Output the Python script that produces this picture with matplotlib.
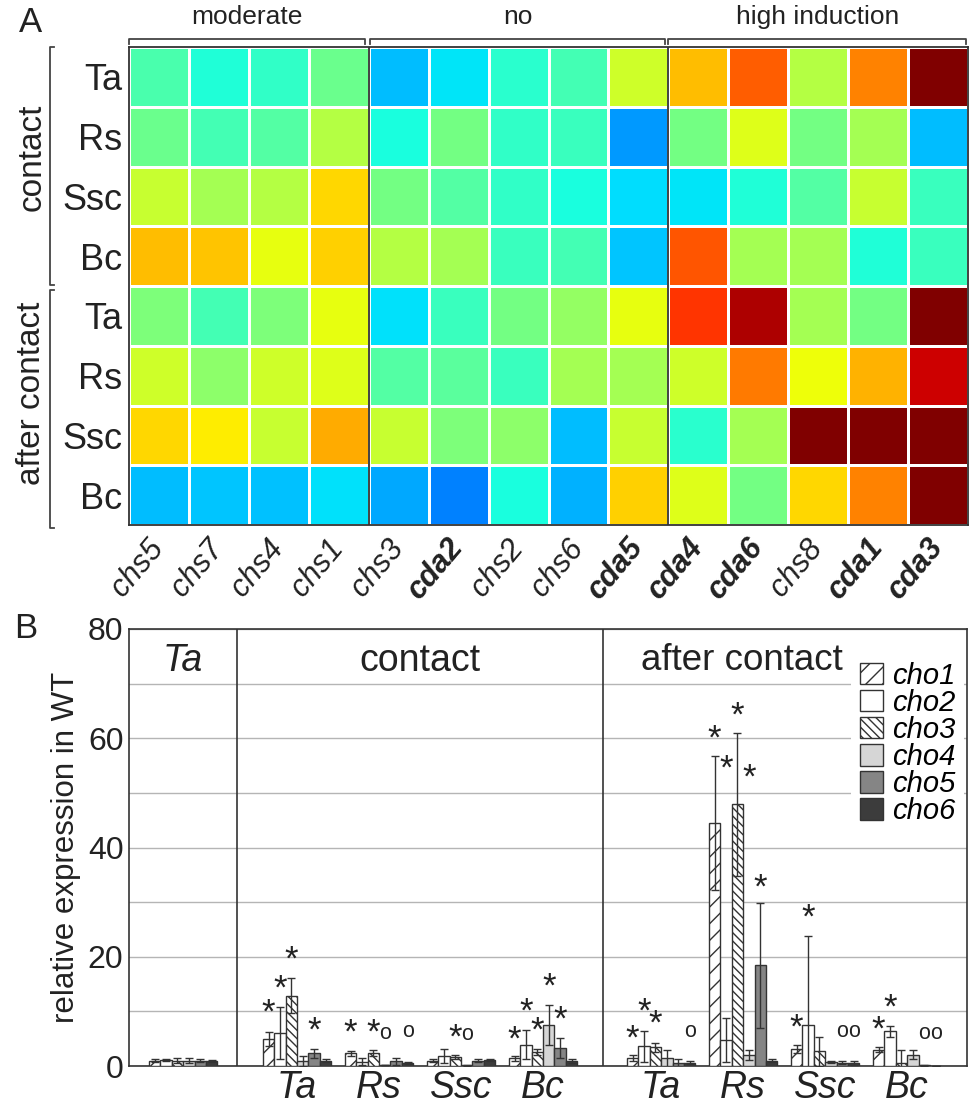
import matplotlib.pyplot as plt
import numpy as np
from matplotlib.patches import Patch

plt.rcParams['font.family'] = ['Liberation Sans', 'DejaVu Sans']
plt.rcParams['hatch.linewidth'] = 1.0

# ---------------- panel A : heatmap (values on a 0..1 jet scale) ----------------
genes_a = ['chs5', 'chs7', 'chs4', 'chs1', 'chs3', 'cda2', 'chs2', 'chs6',
           'cda5', 'cda4', 'cda6', 'chs8', 'cda1', 'cda3']
rows_a = ['Ta', 'Rs', 'Ssc', 'Bc', 'Ta', 'Rs', 'Ssc', 'Bc']
col_groups = ['moderate', 'no', 'high induction']

contact_ta = [0.44, 0.39, 0.41, 0.48, 0.31, 0.35, 0.40, 0.43, 0.60, 0.71, 0.81, 0.57, 0.77, 1.00]
contact_rs = [0.48, 0.43, 0.45, 0.57, 0.38, 0.49, 0.41, 0.42, 0.275, 0.49, 0.62, 0.49, 0.55, 0.31]
contact_ssc = [0.59, 0.55, 0.57, 0.68, 0.49, 0.45, 0.41, 0.38, 0.34, 0.35, 0.39, 0.45, 0.59, 0.42]
contact_bc = [0.71, 0.70, 0.63, 0.69, 0.57, 0.55, 0.42, 0.43, 0.32, 0.82, 0.55, 0.55, 0.39, 0.42]
after_ta = [0.50, 0.43, 0.50, 0.63, 0.345, 0.42, 0.49, 0.53, 0.63, 0.855, 0.96, 0.55, 0.49, 1.00]
after_rs = [0.60, 0.52, 0.60, 0.62, 0.45, 0.46, 0.42, 0.55, 0.55, 0.60, 0.78, 0.64, 0.72, 0.93]
after_ssc = [0.68, 0.66, 0.59, 0.73, 0.59, 0.50, 0.52, 0.31, 0.59, 0.40, 0.55, 1.00, 1.00, 1.00]
after_bc = [0.31, 0.32, 0.315, 0.345, 0.29, 0.25, 0.38, 0.30, 0.69, 0.62, 0.49, 0.68, 0.77, 1.00]

# ---------------- panel B : bars ----------------
groups_b = ['Ta', 'Ta', 'Rs', 'Ssc', 'Bc', 'Ta', 'Rs', 'Ssc', 'Bc']
series_b = ['cho1', 'cho2', 'cho3', 'cho4', 'cho5', 'cho6']

cho1 = [1.0, 5.0, 2.3, 1.0, 1.4, 1.5, 44.5, 3.1, 3.0]
cho2 = [1.05, 6.0, 0.8, 1.8, 3.9, 3.6, 4.7, 7.5, 6.4]
cho3 = [1.0, 12.9, 2.4, 1.6, 2.6, 3.4, 47.9, 2.7, 0.5]
cho4 = [1.0, 0.9, 0.15, 0.1, 7.5, 1.4, 2.0, 0.7, 2.1]
cho5 = [1.0, 2.3, 0.85, 1.0, 3.25, 0.6, 18.4, 0.6, 0.1]
cho6 = [0.95, 1.0, 0.55, 1.15, 0.9, 0.6, 1.0, 0.6, 0.05]

cho1_err = [0.3, 1.3, 0.5, 0.2, 0.4, 0.5, 12.2, 0.7, 0.4]
cho2_err = [0.2, 4.8, 0.6, 1.3, 2.7, 2.8, 4.0, 16.3, 1.0]
cho3_err = [0.4, 3.2, 0.6, 0.4, 0.5, 0.9, 13.1, 2.7, 2.4]
cho4_err = [0.5, 0.9, 0.05, 0.05, 3.7, 1.5, 0.9, 0.2, 0.8]
cho5_err = [0.2, 0.9, 0.65, 0.35, 1.85, 0.75, 11.4, 0.25, 0.05]
cho6_err = [0.15, 0.35, 0.2, 0.2, 0.3, 0.25, 0.35, 0.4, 0.02]

# significance marks (* / o) and the level they are written at
cho1_mark = ['', '*', '*', '', '*', '*', '*', '*', '*']
cho2_mark = ['', '*', '', '', '*', '*', '*', '*', '*']
cho3_mark = ['', '*', '*', '*', '*', '*', '*', '', '']
cho4_mark = ['', '', 'o', 'o', '*', '', '*', '', '']
cho5_mark = ['', '*', '', '', '*', '', '*', 'o', 'o']
cho6_mark = ['', '', 'o', '', '', 'o', '', 'o', 'o']
cho1_mark_y = [0, 11.7, 8.0, 0, 6.7, 6.9, 61.8, 8.9, 8.6]
cho2_mark_y = [0, 16.0, 0, 0, 11.8, 11.8, 56.3, 29.1, 12.6]
cho3_mark_y = [0, 21.3, 8.0, 7.1, 8.3, 9.6, 66.0, 0, 0]
cho4_mark_y = [0, 0, 6.0, 5.8, 16.4, 0, 54.7, 0, 0]
cho5_mark_y = [0, 8.3, 0, 0, 10.4, 0, 34.6, 6.3, 6.0]
cho6_mark_y = [0, 0, 6.3, 0, 0, 6.4, 0, 6.3, 6.0]

fig = plt.figure(figsize=(9.71, 11.06), dpi=100)

# ======== A ========
ax_a = fig.add_axes([129 / 971, 1 - 525 / 1106, 839 / 971, 478 / 1106])
heat = np.array([contact_ta, contact_rs, contact_ssc, contact_bc,
                 after_ta, after_rs, after_ssc, after_bc])
ax_a.pcolormesh(np.arange(15), np.arange(9), heat, cmap='jet', vmin=0, vmax=1,
                edgecolors='white', linewidth=2)
ax_a.set_xlim(0, 14)
ax_a.set_ylim(8, 0)
for x in [4, 9]:
    ax_a.axvline(x, color='#333333', lw=1.3)
for sp in ax_a.spines.values():
    sp.set_color('#333333')
    sp.set_linewidth(1.3)
ax_a.set_xticks([])
ax_a.set_yticks(np.arange(8) + 0.5)
ax_a.set_yticklabels(rows_a, fontsize=26)
ax_a.tick_params(axis='y', length=0, pad=5, colors='#222222')

for i, g in enumerate(genes_a):
    bold = g.startswith('cda')
    ax_a.text(i + 0.3, 8.14, g, rotation=50, rotation_mode='anchor',
              ha='right', va='top', fontsize=22, style='italic',
              fontweight='bold' if bold else 'normal', color='#222222')

# top brackets
br_col = '#444444'
spans = [(0.0, 3.93), (4.02, 8.95), (9.0, 13.97)]
for (x0, x1), lab in zip(spans, col_groups):
    ax_a.plot([x0, x0, x1, x1], [-0.05, -0.13, -0.13, -0.05], color=br_col,
              lw=1.3, clip_on=False)
    ax_a.text((x0 + x1) / 2, -0.3, lab, ha='center', va='bottom', fontsize=19,
              color='#222222')

# side brackets
for (y0, y1), lab, ly in zip([(0.0, 3.98), (4.07, 8.05)], ['contact', 'after contact'], [1.85, 5.8]):
    ax_a.plot([-1.25, -1.32, -1.32, -1.25], [y0, y0, y1, y1], color=br_col,
              lw=1.3, clip_on=False)
    ax_a.text(-1.62, ly, lab, rotation=90, ha='center', va='center', fontsize=24,
              color='#222222')

fig.text(30 / 971, 1 - 23 / 1106, 'A', fontsize=25, ha='center', va='center', color='#222222')
fig.text(26 / 971, 1 - 628 / 1106, 'B', fontsize=25, ha='center', va='center', color='#222222')

# ======== B ========
ax_b = fig.add_axes([129 / 971, 1 - 1066 / 1106, 838 / 971, 437 / 1106])
centers = np.r_[0.0, 1.39 + np.arange(4), 5.83 + np.arange(4)]
values = [cho1, cho2, cho3, cho4, cho5, cho6]
errors = [cho1_err, cho2_err, cho3_err, cho4_err, cho5_err, cho6_err]
marks = [cho1_mark, cho2_mark, cho3_mark, cho4_mark, cho5_mark, cho6_mark]
marks_y = [cho1_mark_y, cho2_mark_y, cho3_mark_y, cho4_mark_y, cho5_mark_y, cho6_mark_y]
faces = ['white', 'white', 'white', '#d6d6d6', '#858585', '#3c3c3c']
hatches = ['//', '', '\\\\\\\\', '', '', '']
edge = '#333333'
w = 0.139

handles = []
for i in range(6):
    xs = centers + (i - 2.5) * w
    ax_b.bar(xs, values[i], w, yerr=errors[i], color=faces[i], edgecolor=edge,
             hatch=hatches[i], linewidth=1, zorder=3,
             error_kw=dict(ecolor=edge, elinewidth=1, capsize=3, capthick=1, zorder=4))
    for x, m, my in zip(xs, marks[i], marks_y[i]):
        if m == '*':
            ax_b.annotate('*', (x, my), xytext=(0, -0.58 * 25), textcoords='offset points',
                          ha='center', va='baseline', fontsize=25, color='#222222')
        elif m == 'o':
            ax_b.annotate('o', (x, my), xytext=(0, -0.27 * 15.5), textcoords='offset points',
                          ha='center', va='baseline', fontsize=15.5, color='#222222')
    handles.append(Patch(facecolor=faces[i], edgecolor=edge, hatch=hatches[i],
                         label=series_b[i]))

ax_b.set_xlim(-0.66, 9.56)
ax_b.set_ylim(0, 80)
ax_b.set_yticks(np.arange(0, 81, 20))
ax_b.set_yticks(np.arange(10, 80, 20), minor=True)
ax_b.grid(axis='y', which='both', color='#b5b5b5', lw=1, zorder=0)
ax_b.tick_params(axis='y', which='both', length=0, labelsize=23, pad=4, colors='#222222')
ax_b.set_xticks(centers[1:])
ax_b.set_xticklabels(groups_b[1:], fontsize=27, style='italic')
ax_b.tick_params(axis='x', length=0, pad=3, colors='#222222')
ax_b.set_ylabel('relative expression in WT', fontsize=22.5, labelpad=5, color='#222222')
for sp in ax_b.spines.values():
    sp.set_color('#333333')
    sp.set_linewidth(1.2)
for x in [0.66, 5.12]:
    ax_b.axvline(x, color='#333333', lw=1.2, zorder=5)

ax_b.text(centers[0], 74.2, groups_b[0], ha='center', va='center', fontsize=27,
          style='italic', color='#222222')
ax_b.text(2.89, 74.2, 'contact', ha='center', va='center', fontsize=27, color='#222222')
ax_b.text(6.82, 74.2, 'after contact', ha='center', va='center', fontsize=26.5, color='#222222')

leg = ax_b.legend(handles=handles, loc='upper right', bbox_to_anchor=(1.0, 0.952),
                  prop={'style': 'italic', 'size': 21}, frameon=True,
                  facecolor='white', edgecolor='none', framealpha=1, fancybox=False,
                  handlelength=0.8, handleheight=0.75, handletextpad=0.3,
                  labelspacing=-0.03, borderpad=0.3, borderaxespad=0.1)
leg.set_zorder(6)

fig.savefig('out.png', dpi=100)
